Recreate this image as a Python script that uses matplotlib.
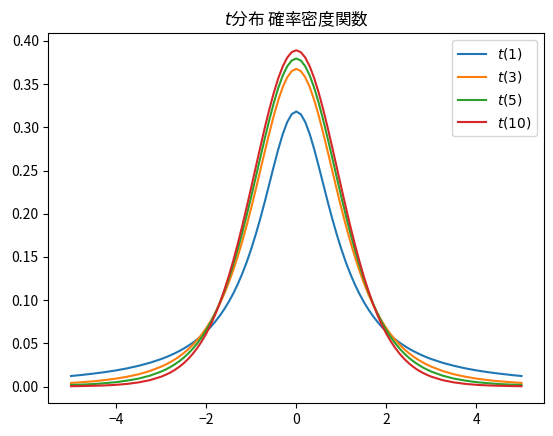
import matplotlib
matplotlib.use("Agg")
import matplotlib.pyplot as plt

plt.rcParams['font.family'] = ['Noto Sans CJK JP', 'DejaVu Sans']

# x positions (denser where they bend)
x = [-5.0, -4.75, -4.5, -4.25, -4.0, -3.75, -3.5, -3.25,
     -3.0, -2.9, -2.8, -2.7, -2.6, -2.5, -2.4, -2.3, -2.2, -2.1,
     -2.0, -1.9, -1.8, -1.7, -1.6, -1.5, -1.4, -1.3, -1.2, -1.1,
     -1.0, -0.9, -0.8, -0.7, -0.6, -0.5, -0.4, -0.3, -0.2, -0.1,
     0.0,
     0.1, 0.2, 0.3, 0.4, 0.5, 0.6, 0.7, 0.8, 0.9, 1.0,
     1.1, 1.2, 1.3, 1.4, 1.5, 1.6, 1.7, 1.8, 1.9, 2.0,
     2.1, 2.2, 2.3, 2.4, 2.5, 2.6, 2.7, 2.8, 2.9, 3.0,
     3.25, 3.5, 3.75, 4.0, 4.25, 4.5, 4.75, 5.0]

t1 = [0.0122, 0.0135, 0.0150, 0.0167, 0.0187, 0.0211, 0.0240, 0.0275,
      0.0318, 0.0338, 0.0360, 0.0384, 0.0410, 0.0439, 0.0471, 0.0506, 0.0545, 0.0588,
      0.0637, 0.0690, 0.0751, 0.0818, 0.0894, 0.0979, 0.1075, 0.1183, 0.1305, 0.1440,
      0.1592, 0.1759, 0.1941, 0.2136, 0.2341, 0.2546, 0.2744, 0.2920, 0.3061, 0.3152,
      0.3183,
      0.3152, 0.3061, 0.2920, 0.2744, 0.2546, 0.2341, 0.2136, 0.1941, 0.1759, 0.1592,
      0.1440, 0.1305, 0.1183, 0.1075, 0.0979, 0.0894, 0.0818, 0.0751, 0.0690, 0.0637,
      0.0588, 0.0545, 0.0506, 0.0471, 0.0439, 0.0410, 0.0384, 0.0360, 0.0338, 0.0318,
      0.0275, 0.0240, 0.0211, 0.0187, 0.0167, 0.0150, 0.0135, 0.0122]

t3 = [0.0042, 0.0051, 0.0061, 0.0075, 0.0092, 0.0114, 0.0142, 0.0180,
      0.0230, 0.0254, 0.0282, 0.0312, 0.0347, 0.0387, 0.0431, 0.0481, 0.0538, 0.0602,
      0.0675, 0.0757, 0.0850, 0.0954, 0.1070, 0.1200, 0.1345, 0.1504, 0.1678, 0.1866,
      0.2067, 0.2279, 0.2497, 0.2716, 0.2930, 0.3132, 0.3313, 0.3465, 0.3579, 0.3651,
      0.3676,
      0.3651, 0.3579, 0.3465, 0.3313, 0.3132, 0.2930, 0.2716, 0.2497, 0.2279, 0.2067,
      0.1866, 0.1678, 0.1504, 0.1345, 0.1200, 0.1070, 0.0954, 0.0850, 0.0757, 0.0675,
      0.0602, 0.0538, 0.0481, 0.0431, 0.0387, 0.0347, 0.0312, 0.0282, 0.0254, 0.0230,
      0.0180, 0.0142, 0.0114, 0.0092, 0.0075, 0.0061, 0.0051, 0.0042]

t5 = [0.0018, 0.0023, 0.0029, 0.0039, 0.0051, 0.0069, 0.0092, 0.0126,
      0.0173, 0.0197, 0.0224, 0.0256, 0.0292, 0.0333, 0.0381, 0.0436, 0.0498, 0.0569,
      0.0651, 0.0743, 0.0848, 0.0966, 0.1098, 0.1245, 0.1407, 0.1585, 0.1777, 0.1981,
      0.2197, 0.2419, 0.2645, 0.2868, 0.3081, 0.3279, 0.3454, 0.3598, 0.3706, 0.3773,
      0.3796,
      0.3773, 0.3706, 0.3598, 0.3454, 0.3279, 0.3081, 0.2868, 0.2645, 0.2419, 0.2197,
      0.1981, 0.1777, 0.1585, 0.1407, 0.1245, 0.1098, 0.0966, 0.0848, 0.0743, 0.0651,
      0.0569, 0.0498, 0.0436, 0.0381, 0.0333, 0.0292, 0.0256, 0.0224, 0.0197, 0.0173,
      0.0126, 0.0092, 0.0069, 0.0051, 0.0039, 0.0029, 0.0023, 0.0018]

t10 = [0.0004, 0.0006, 0.0009, 0.0013, 0.0020, 0.0031, 0.0048, 0.0074,
       0.0114, 0.0136, 0.0161, 0.0191, 0.0227, 0.0269, 0.0319, 0.0377, 0.0444, 0.0522,
       0.0611, 0.0714, 0.0831, 0.0963, 0.1111, 0.1274, 0.1454, 0.1649, 0.1857, 0.2076,
       0.2304, 0.2535, 0.2766, 0.2991, 0.3203, 0.3397, 0.3566, 0.3704, 0.3807, 0.3870,
       0.3891,
       0.3870, 0.3807, 0.3704, 0.3566, 0.3397, 0.3203, 0.2991, 0.2766, 0.2535, 0.2304,
       0.2076, 0.1857, 0.1649, 0.1454, 0.1274, 0.1111, 0.0963, 0.0831, 0.0714, 0.0611,
       0.0522, 0.0444, 0.0377, 0.0319, 0.0269, 0.0227, 0.0191, 0.0161, 0.0136, 0.0114,
       0.0074, 0.0048, 0.0031, 0.0020, 0.0013, 0.0009, 0.0006, 0.0004]

labels = ['$t$(1)', '$t$(3)', '$t$(5)', '$t$(10)']

fig = plt.figure(figsize=(5.53, 4.36), dpi=100)
ax = fig.add_axes([48.5/553, 33/436, 495.5/553, 369.5/436])

for ys, lab in zip([t1, t3, t5, t10], labels):
    ax.plot(x, ys, label=lab)

ax.set_title('$t$分布 確率密度関数')
ax.legend(prop={'family': 'DejaVu Sans'})

fig.savefig('out.png', dpi=100)
